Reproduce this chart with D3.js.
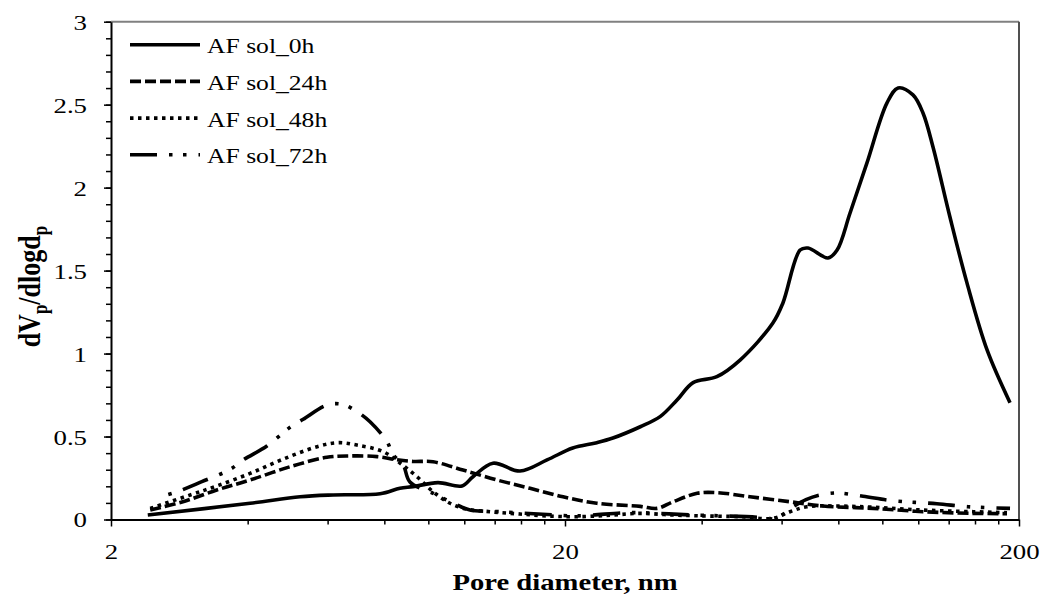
<!DOCTYPE html>
<html>
<head>
<meta charset="utf-8">
<script src="https://cdn.jsdelivr.net/npm/d3@7"></script>
<style>
  body { margin: 0; background: #fff; }
  text { font-family: "Liberation Serif", "Times New Roman", serif; fill: #000; }
</style>
</head>
<body>
<script>
// pore diameter (nm) and dVp/dlogdp for each sample
const pore0 = [2.41, 4.05, 5.22, 6.17, 7.83, 8.66, 9.25, 10.5, 11.86, 12.54, 13.88, 15.92, 18.26, 20.8, 23.5, 25.5, 29.3, 32.4, 35.3, 38.3, 43.2, 48.6, 57.4, 60.4, 65.9, 68.6, 75.9, 79.5, 84.9, 92.5, 102.4, 108.3, 116.8, 122.9, 129.3, 140.9, 153.6, 170.1, 191.1];
const sol0h = [0.027, 0.098, 0.137, 0.148, 0.155, 0.188, 0.198, 0.222, 0.202, 0.258, 0.339, 0.292, 0.359, 0.431, 0.463, 0.491, 0.559, 0.620, 0.720, 0.825, 0.861, 0.961, 1.184, 1.305, 1.624, 1.636, 1.576, 1.624, 1.847, 2.149, 2.511, 2.601, 2.559, 2.450, 2.245, 1.823, 1.426, 1.022, 0.704];

const pore24 = [2.44, 2.88, 3.42, 4.05, 4.96, 5.98, 6.72, 7.71, 8.53, 9.25, 10.24, 11.92, 14.17, 16.75, 19.8, 23.5, 29.3, 31.9, 34.6, 39.1, 43.2, 51.1, 62.6, 74.0, 95.4, 122.9, 158.4, 188.2];
const sol24h = [0.057, 0.107, 0.178, 0.238, 0.318, 0.375, 0.383, 0.379, 0.36, 0.35, 0.348, 0.298, 0.238, 0.188, 0.137, 0.098, 0.079, 0.067, 0.107, 0.158, 0.162, 0.137, 0.107, 0.081, 0.067, 0.047, 0.037, 0.035];

const pore48 = [2.44, 2.99, 3.42, 4.05, 4.78, 5.69, 6.32, 6.96, 7.95, 8.66, 9.44, 10.24, 11.16, 12.17, 13.67, 15.92, 18.26, 21.6, 25.5, 29.3, 34.6, 41.1, 48.6, 57.4, 62.6, 68.2, 80.7, 95.4, 122.9, 158.4, 188.2];
const sol48h = [0.067, 0.148, 0.202, 0.278, 0.363, 0.439, 0.463, 0.449, 0.409, 0.34, 0.258, 0.168, 0.098, 0.062, 0.047, 0.033, 0.021, 0.017, 0.027, 0.037, 0.027, 0.021, 0.017, 0.007, 0.047, 0.077, 0.081, 0.074, 0.057, 0.047, 0.041];

const pore72 = [2.56, 2.80, 3.17, 3.66, 3.91, 4.41, 4.96, 5.30, 5.98, 6.46, 6.96, 7.44, 8.11, 8.36, 8.8, 9.11, 10.24, 10.99, 11.8, 12.35, 14.38, 18.26, 21.3, 26.8, 29.3, 38.3, 44.6, 55.7, 58.0, 63.6, 67.9, 72.9, 79.5, 90.7, 105.6, 131.9, 154.4, 191.1];
const sol72h = [0.137, 0.168, 0.228, 0.302, 0.359, 0.443, 0.556, 0.604, 0.690, 0.694, 0.650, 0.589, 0.469, 0.39, 0.33, 0.226, 0.158, 0.117, 0.077, 0.057, 0.047, 0.03, 0.022, 0.04, 0.041, 0.027, 0.022, 0.01, 0.003, 0.077, 0.12, 0.148, 0.16, 0.14, 0.113, 0.095, 0.077, 0.067];

const seriesNames = ["AF sol_0h", "AF sol_24h", "AF sol_48h", "AF sol_72h"];
const xMajor = [2, 20, 200];
const xMinor = [4, 6, 8, 10, 12, 14, 16, 18, 40, 60, 80, 100, 120, 140, 160, 180];
const yMajor = [0, 0.5, 1, 1.5, 2, 2.5, 3];

const series = [
  { name: seriesNames[0], x: pore0, y: sol0h, dash: null, offset: 0 },
  { name: seriesNames[1], x: pore24, y: sol24h, dash: "11,4", offset: 0 },
  { name: seriesNames[2], x: pore48, y: sol48h, dash: "3.5,4.5", offset: 0 },
  { name: seriesNames[3], x: pore72, y: sol72h, dash: "27,12,3.5,10.5,3.5,12", offset: 44 },
];

const W = 1041, H = 599;
const plot = { left: 111, right: 1019, top: 21.7, bottom: 519.5 };
const sx = 1.22; // the picture is stretched sideways, so are its glyphs

const svg = d3.select("body").append("svg").attr("width", W).attr("height", H);
svg.append("rect").attr("width", W).attr("height", H).attr("fill", "#fff");

const x = d3.scaleLog().domain([2, 200]).range([plot.left, plot.right]);
const y = d3.scaleLinear().domain([0, 3]).range([plot.bottom, plot.top]);

// plot border (top and right)
svg.append("line").attr("x1", plot.left).attr("x2", plot.right).attr("y1", plot.top).attr("y2", plot.top)
  .attr("stroke", "#808080").attr("stroke-width", 2);
svg.append("line").attr("x1", plot.right).attr("x2", plot.right).attr("y1", plot.top).attr("y2", plot.bottom)
  .attr("stroke", "#505050").attr("stroke-width", 2);

// curves
const line = d3.line()
  .x((d) => x(d[0]))
  .y((d) => y(d[1]))
  .curve(d3.curveCatmullRom.alpha(0.5));

svg.append("clipPath").attr("id", "clip").append("rect")
  .attr("x", plot.left).attr("y", plot.top - 5)
  .attr("width", plot.right - plot.left).attr("height", plot.bottom - plot.top + 5);

svg.append("g").attr("clip-path", "url(#clip)")
  .selectAll("path")
  .data(series)
  .join("path")
  .attr("d", (s) => line(d3.zip(s.x, s.y)))
  .attr("fill", "none")
  .attr("stroke", "#000")
  .attr("stroke-width", 3.6)
  .attr("stroke-linejoin", "round")
  .attr("stroke-dasharray", (s) => s.dash)
  .attr("stroke-dashoffset", (s) => s.offset);

// x axis: minor then major ticks
svg.append("g")
  .attr("transform", `translate(0,${plot.bottom})`)
  .call(d3.axisBottom(x).tickValues(xMinor).tickSize(5).tickSizeOuter(0).tickFormat(""))
  .call((g) => g.select(".domain").remove())
  .call((g) => g.selectAll("line").attr("stroke-width", 1.5));

const xAxis = svg.append("g")
  .attr("transform", `translate(0,${plot.bottom})`)
  .call(d3.axisBottom(x).tickValues(xMajor).tickSize(7).tickSizeOuter(0).tickFormat((d) => String(d)));
xAxis.select(".domain").attr("stroke-width", 2);
xAxis.selectAll("line").attr("stroke-width", 1.5);
xAxis.selectAll("text")
  .attr("font-size", 22).attr("y", 0).attr("dy", null)
  .attr("transform", `translate(0,39) scale(${sx},1)`);

// y axis
svg.append("g")
  .attr("transform", `translate(${plot.left},0)`)
  .call(d3.axisLeft(y).tickValues(d3.range(0, 31).map((i) => i / 10)).tickSize(5).tickSizeOuter(0).tickFormat(""))
  .call((g) => g.select(".domain").remove())
  .call((g) => g.selectAll("line").attr("stroke-width", 1.5));

const yAxis = svg.append("g")
  .attr("transform", `translate(${plot.left},0)`)
  .call(d3.axisLeft(y).tickValues(yMajor).tickSize(7).tickSizeOuter(0).tickFormat((d) => String(d)));
yAxis.select(".domain").attr("stroke-width", 2);
yAxis.selectAll("line").attr("stroke-width", 1.5);
yAxis.selectAll("text")
  .attr("font-size", 22).attr("x", 0).attr("dy", "0.34em")
  .attr("transform", `translate(-24,0) scale(${sx},1)`);

// axis titles
svg.append("text")
  .attr("transform", `translate(${x(20)},590) scale(${sx},1)`)
  .attr("text-anchor", "middle")
  .attr("font-size", 23.5)
  .attr("font-weight", "bold")
  .text("Pore diameter, nm");

const yt = svg.append("text")
  .attr("transform", `translate(40,${(plot.top + plot.bottom) / 2 + 16}) scale(${sx},1) rotate(-90)`)
  .attr("text-anchor", "middle")
  .attr("font-size", 26)
  .attr("font-weight", "bold");
yt.append("tspan").text("dV");
yt.append("tspan").attr("font-size", 17).attr("dy", 6).text("p");
yt.append("tspan").attr("dy", -6).text("/dlogd");
yt.append("tspan").attr("font-size", 17).attr("dy", 6).text("p");

// legend
const legend = svg.append("g")
  .selectAll("g")
  .data(series)
  .join("g")
  .attr("transform", (s, i) => `translate(130,${44.7 + i * 36.7})`);

legend.append("line")
  .attr("x1", 0).attr("x2", 70)
  .attr("stroke", "#000")
  .attr("stroke-width", 3.6)
  .attr("stroke-dasharray", (s) => s.dash);

legend.append("text")
  .attr("transform", `translate(77,8.5) scale(${sx},1)`)
  .attr("font-size", 21)
  .text((s) => s.name);
</script>
</body>
</html>
